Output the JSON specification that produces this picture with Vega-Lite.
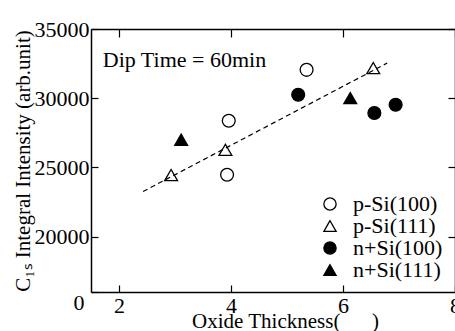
{
  "$schema": "https://vega.github.io/schema/vega-lite/v6.json",
  "width": 364,
  "height": 263,
  "autosize": {"type": "none"},
  "padding": {"left": 91, "top": 29, "right": 0, "bottom": 39},
  "background": "white",
  "config": {
    "font": "Liberation Serif",
    "view": {"stroke": null},
    "axis": {
      "labelFont": "Liberation Serif",
      "titleFont": "Liberation Serif",
      "labelColor": "black",
      "titleColor": "black",
      "domainColor": "black",
      "tickColor": "black",
      "domainWidth": 1.5,
      "tickWidth": 1.2,
      "grid": false,
      "labelFontSize": 22,
      "titleFontSize": 21,
      "titleFontWeight": "normal"
    },
    "legend": {
      "labelFont": "Liberation Serif",
      "labelFontSize": 22,
      "labelColor": "black"
    }
  },
  "resolve": {"axis": {"x": "independent", "y": "independent"}},
  "layer": [
    {
      "data": {"values": [
        {"thickness": 2.43, "intensity": 23260},
        {"thickness": 6.79, "intensity": 32540}
      ]},
      "mark": {"type": "line", "color": "black", "strokeWidth": 1.2, "strokeDash": [5, 3.5]},
      "encoding": {
        "x": {"field": "thickness", "type": "quantitative",
              "scale": {"domain": [1.5, 8], "nice": false, "zero": false},
              "axis": {"orient": "top", "labels": false, "title": null, "values": [2, 4, 6, 8], "tickSize": -8}},
        "y": {"field": "intensity", "type": "quantitative",
              "scale": {"domain": [16000, 35000], "nice": false, "zero": false},
              "axis": {"orient": "right", "labels": false, "title": null, "values": [20000, 25000, 30000, 35000], "tickSize": -7}}
      }
    },
    {
      "data": {"values": [
        {"series": "p-Si(100)", "thickness": 5.35, "intensity": 32050},
        {"series": "p-Si(100)", "thickness": 3.96, "intensity": 28370},
        {"series": "p-Si(100)", "thickness": 3.93, "intensity": 24470},
        {"series": "p-Si(111)", "thickness": 2.93, "intensity": 24450},
        {"series": "p-Si(111)", "thickness": 3.90, "intensity": 26270},
        {"series": "p-Si(111)", "thickness": 6.54, "intensity": 32180},
        {"series": "n+Si(100)", "thickness": 5.20, "intensity": 30250},
        {"series": "n+Si(100)", "thickness": 6.56, "intensity": 28930},
        {"series": "n+Si(100)", "thickness": 6.94, "intensity": 29530},
        {"series": "n+Si(111)", "thickness": 3.11, "intensity": 27000},
        {"series": "n+Si(111)", "thickness": 6.13, "intensity": 30010}
      ]},
      "mark": {"type": "point", "filled": true, "size": 165, "stroke": "black", "strokeWidth": 1.3, "opacity": 1},
      "encoding": {
        "x": {"field": "thickness", "type": "quantitative",
              "scale": {"domain": [1.5, 8], "nice": false, "zero": false},
              "axis": {"orient": "bottom", "title": "Oxide Thickness(\u00a0\u00a0\u00a0\u00a0\u00a0\u00a0)", "values": [2, 4, 6, 8],
                       "tickSize": -7, "labelPadding": 10, "titlePadding": -6, "titleX": 194, "labelFlush": false, "labelOverlap": false}},
        "y": {"field": "intensity", "type": "quantitative",
              "scale": {"domain": [16000, 35000], "nice": false, "zero": false},
              "axis": {"orient": "left", "title": "C₁ₛ Integral Intensity (arb.unit)", "values": [16000, 20000, 25000, 30000, 35000],
                       "format": "d", "labelExpr": "datum.value < 17000 ? '0' : datum.label",
                       "tickSize": -7, "labelPadding": {"condition": {"test": "datum.value < 17000", "value": 14}, "value": 9},
                       "labelBaseline": {"condition": {"test": "datum.value < 17000", "value": "top"}, "value": "middle"},
                       "titlePadding": 1, "labelFlush": false, "labelOverlap": false}},
        "shape": {"field": "series", "type": "nominal",
                  "scale": {"domain": ["p-Si(100)", "p-Si(111)", "n+Si(100)", "n+Si(111)"],
                            "range": ["circle", "triangle-up", "circle", "triangle-up"]},
                  "legend": {"title": null, "orient": "none", "legendX": 228, "legendY": 164,
                             "rowPadding": -1.5, "labelOffset": 12, "symbolSize": 150, "symbolStrokeWidth": 1.3,
                             "encode": {"symbols": {"update": {"stroke": {"value": "black"}, "strokeWidth": {"value": 1.3}}}}}},
        "fill": {"field": "series", "type": "nominal",
                 "scale": {"domain": ["p-Si(100)", "p-Si(111)", "n+Si(100)", "n+Si(111)"],
                           "range": ["transparent", "transparent", "black", "black"]},
                 "legend": {"title": null, "orient": "none", "legendX": 228, "legendY": 164,
                            "rowPadding": -1.5, "labelOffset": 12, "symbolSize": 150, "symbolStrokeWidth": 1.3,
                            "encode": {"symbols": {"update": {"stroke": {"value": "black"}, "strokeWidth": {"value": 1.3}}}}}}
      }
    },
    {
      "data": {"values": [{"label": "Dip Time = 60min", "thickness": 1.71, "intensity": 32780}]},
      "mark": {"type": "text", "align": "left", "baseline": "middle", "fontSize": 22, "font": "Liberation Serif", "color": "black"},
      "encoding": {
        "x": {"field": "thickness", "type": "quantitative", "scale": {"domain": [1.5, 8], "nice": false, "zero": false}, "axis": null},
        "y": {"field": "intensity", "type": "quantitative", "scale": {"domain": [16000, 35000], "nice": false, "zero": false}, "axis": null},
        "text": {"field": "label"}
      }
    }
  ]
}
